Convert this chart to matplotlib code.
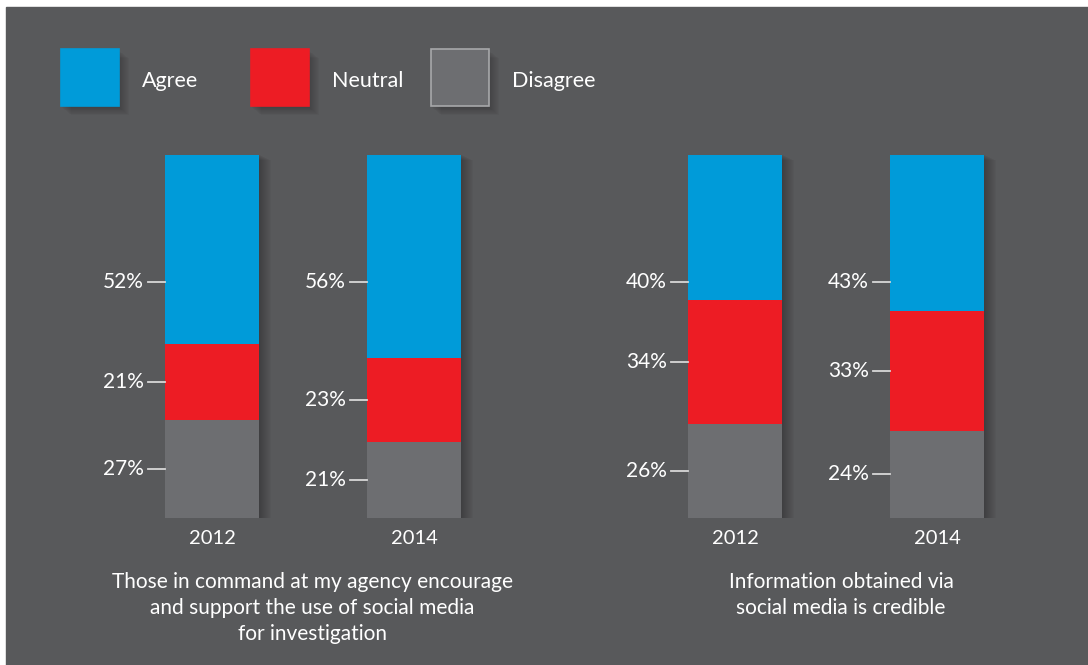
import matplotlib
matplotlib.use('Agg')
import matplotlib.pyplot as plt
from matplotlib.patches import Rectangle

# ---------------------------------------------------------------------------
# Data
# ---------------------------------------------------------------------------
years = ['2012', '2014', '2012', '2014']
agree = [52, 56, 40, 43]
neutral = [21, 23, 34, 33]
disagree = [27, 21, 26, 24]
captions = [
    "Those in command at my agency encourage\nand support the use of social media\nfor investigation",
    "Information obtained via\nsocial media is credible",
]
legend_labels = ['Agree', 'Neutral', 'Disagree']

# ---------------------------------------------------------------------------
# Style
# ---------------------------------------------------------------------------
BG = '#58595b'
BLUE = '#009bd9'
RED = '#ed1c24'
GREY = '#6d6e71'
TXT = '#ffffff'
FONT = ['Lato', 'DejaVu Sans']
plt.rcParams['font.family'] = FONT

W, H = 1088, 665
fig = plt.figure(figsize=(W / 100, H / 100), dpi=100)
fig.patch.set_facecolor('white')

# dark panel with a thin white margin at top / left
panel = fig.add_axes([0, 0, 1, 1])
panel.set_xlim(0, W)
panel.set_ylim(H, 0)
panel.axis('off')
panel.add_patch(Rectangle((6, 7), W, H, color=BG, zorder=0))

# ---------------------------------------------------------------------------
# Legend
# ---------------------------------------------------------------------------
leg_x = [61, 251, 431]
leg_cols = [BLUE, RED, GREY]
for x, c, lab in zip(leg_x, leg_cols, legend_labels):
    for k in range(10):
        panel.add_patch(Rectangle((x + 1 + k, 49 + 2 + k * 0.8), 58, 57,
                                  color='black', alpha=0.025, lw=0, zorder=1))
    edge = '#a7a8aa' if c == GREY else c
    panel.add_patch(Rectangle((x, 49), 58, 57, facecolor=c, edgecolor=edge,
                              lw=1.2, zorder=2))
    panel.text(x + 81, 81, lab, color=TXT, fontsize=15.5, va='center',
               ha='left', zorder=3)

# ---------------------------------------------------------------------------
# Bars (axes mapped so that 0..100 % spans the bar height)
# ---------------------------------------------------------------------------
bar_top, bar_bot = 155, 518
ax = fig.add_axes([0, (H - bar_bot) / H, 1, (bar_bot - bar_top) / H])
ax.set_xlim(0, W)
ax.set_ylim(0, 100)
ax.axis('off')
ax.patch.set_alpha(0)

xpos = [212, 414, 735, 937]
bw = 94
px = 100 / (bar_bot - bar_top)  # one pixel in data units

for i, x in enumerate(xpos):
    # soft shadow to the right
    for k in range(12):
        ax.bar(x + 1 + k, 100, width=bw, bottom=-k * px * 0.5,
               color='black', alpha=0.022, lw=0, zorder=1)
    ax.bar(x, disagree[i], width=bw, color=GREY, lw=0, zorder=2)
    ax.bar(x, neutral[i], width=bw, bottom=disagree[i], color=RED, lw=0, zorder=2)
    ax.bar(x, agree[i], width=bw, bottom=disagree[i] + neutral[i],
           color=BLUE, lw=0, zorder=2)

    # value labels with leader ticks
    mids = [disagree[i] / 2,
            disagree[i] + neutral[i] / 2,
            65]
    vals = [disagree[i], neutral[i], agree[i]]
    left = x - bw / 2
    for m, v in zip(mids, vals):
        ax.plot([left - 17, left], [m, m], color='#d8d8d8', lw=1.3, zorder=3)
        ax.text(left - 21, m, f"{v}%", color=TXT, fontsize=15,
                ha='right', va='center', zorder=3)

    ax.text(x, -5.6, years[i], color=TXT, fontsize=14.5, ha='center',
            va='center')

# captions
cap_x = [312, 841]
for cx, cap in zip(cap_x, captions):
    panel.text(cx, 572, cap, color=TXT, fontsize=15, ha='center', va='top',
               linespacing=1.36)

fig.savefig('out.png', dpi=100, facecolor=fig.get_facecolor())
